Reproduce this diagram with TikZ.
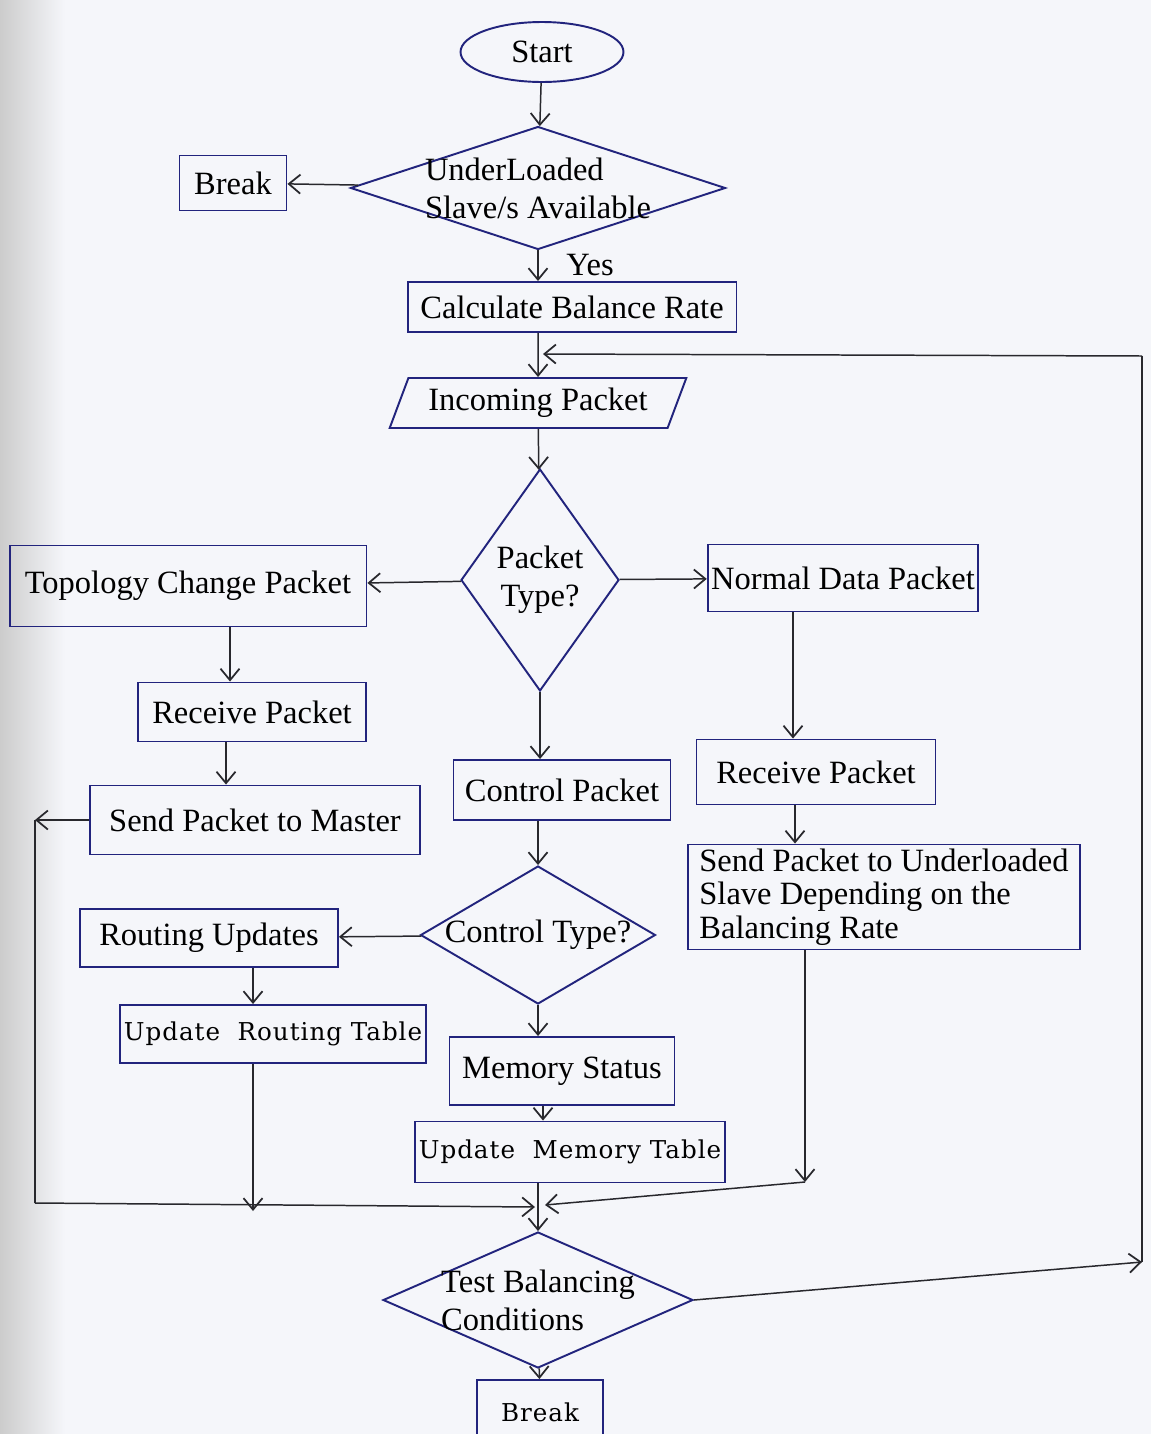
\documentclass[tikz,border=0pt]{standalone}
\usepackage{fontspec}
\setmainfont{Liberation Serif}
\newfontfamily\tablefont[LetterSpace=4]{DejaVu Serif}
\usetikzlibrary{shapes.geometric,arrows.meta}

\begin{document}
\begin{tikzpicture}[x=0.02cm,y=-0.02cm,
  every node/.style={font=\fontsize{18.5}{21.5}\selectfont, text=black},
  box/.style={rectangle, draw=boxline, line width=1.1pt, inner sep=2pt},
  decision/.style={diamond, draw=boxline, line width=1.1pt, inner sep=0pt},
  tabtext/.style={font=\tablefont\fontsize{14}{16}\selectfont},
  link/.style={draw=arrline, line width=0.85pt},
  arr/.style={link, -{Straight Barb[length=2.3mm,width=3.8mm,line width=1pt]}}]
%Define all colors here.

\definecolor{paper}{RGB}{245,246,250}
\definecolor{boxline}{RGB}{34,36,125}
\definecolor{arrline}{RGB}{40,40,45}

\fill[paper] (0,0) rectangle (1151,1434);
\shade[left color=gray!40, right color=paper] (0,0) rectangle (65,1434);
\useasboundingbox (0,0) rectangle (1151,1434);

% main column
\node(start) at (542,52) [ellipse, draw=boxline, line width=1.1pt, minimum width=3.26cm, minimum height=1.2cm] {Start};
\node(under) at (538,188) [decision, minimum width=7.5cm, minimum height=2.46cm,
  label={[align=left]center:UnderLoaded\\Slave/s Available}] {};
\node(brk1) at (233,183) [box, minimum width=2.14cm, minimum height=1.1cm] {Break};
\node(yes) at (590,265) {Yes};
\node(calc) at (572,307) [box, minimum width=6.58cm, minimum height=1cm] {Calculate Balance Rate};
\node(inc) at (538,403) [trapezium, trapezium left angle=68, trapezium right angle=112,
  trapezium stretches=true, draw=boxline, line width=1.1pt, minimum width=5.94cm, minimum height=1cm] {Incoming Packet};
\node(ptype) at (540,580) [decision, minimum width=3.16cm, minimum height=4.44cm,
  label={[align=center]center:Packet\\Type?}] {};

% topology branch
\node(topo) at (188,586) [box, minimum width=7.14cm, minimum height=1.62cm] {Topology Change Packet};
\node(recvL) at (252,712) [box, minimum width=4.56cm, minimum height=1.18cm] {Receive Packet};
\node(master) at (255,820) [box, minimum width=6.6cm, minimum height=1.38cm] {Send Packet to Master};

% data branch
\node(normal) at (843,578) [box, minimum width=5.4cm, minimum height=1.34cm] {Normal Data Packet};
\node(recvR) at (816,772) [box, minimum width=4.78cm, minimum height=1.3cm] {Receive Packet};
\node(sendU) at (884,897) [box, minimum width=7.84cm, minimum height=2.1cm, align=left,
  font=\fontsize{18.5}{19}\selectfont] {Send Packet to Underloaded\\ Slave Depending on the\\ Balancing Rate};

% control branch
\node(ctrl) at (562,790) [box, minimum width=4.34cm, minimum height=1.2cm] {Control Packet};
\node(ctype) at (538,935) [decision, minimum width=4.7cm, minimum height=2.76cm,
  label=center:Control Type?] {};
\node(route) at (209,938) [box, minimum width=5.16cm, minimum height=1.16cm] {Routing Updates};
\node(rtable) at (273,1034) [box, tabtext, minimum width=6.06cm, minimum height=1.16cm] {Update\ \ Routing Table};
\node(mem) at (562,1071) [box, minimum width=4.5cm, minimum height=1.36cm] {Memory Status};
\node(mtable) at (570,1152) [box, tabtext, minimum width=6.08cm, minimum height=1.22cm] {Update\ \ Memory Table};

\node(test) at (538,1300) [decision, minimum width=6.2cm, minimum height=2.72cm,
  label={[align=left]center:Test Balancing\\Conditions}] {};
\node(brk2) at (540,1412) [box, tabtext, minimum width=2.52cm, minimum height=1.28cm] {Break};

% bends and columns
\coordinate(rt) at (1142,356);
\coordinate(rb) at (1142,1262);
\coordinate(loopin) at (543,354);
\coordinate(lt) at (35,820);
\coordinate(lb) at (35,1203);
\coordinate(mergeL) at (535,1207);
\coordinate(mergeR) at (545,1205);
\coordinate(rdrop) at (253,1211);
\coordinate(ucorner) at (805,1182);
\coordinate(colA) at (230,0);
\coordinate(colB) at (226,0);
\coordinate(colR) at (253,0);
\coordinate(colN) at (793,0);
\coordinate(colU) at (795,0);
\coordinate(colV) at (805,0);
\coordinate(colM) at (543,0);

\draw[arr] (start) -- (under);
\draw[arr] (under) -- (brk1);
\draw[arr] (under) -- (under |- calc.north);
\draw[arr] (inc |- calc.south) -- (inc);
\draw[arr] (inc) -- (ptype);
\draw[arr] (ptype) -- (topo);
\draw[arr] (ptype) -- (normal);
\draw[arr] (ptype) -- (ptype |- ctrl.north);

\draw[arr] (topo.south -| colA) -- (recvL.north -| colA);
\draw[arr] (recvL.south -| colB) -- (master.north -| colB);
\draw[arr] (master) -- (lt);
\draw[link] (lt) -- (lb);
\draw[arr] (lb) -- (mergeL);

\draw[arr] (normal.south -| colN) -- (recvR.north -| colN);
\draw[arr] (recvR.south -| colU) -- (sendU.north -| colU);
\draw[arr] (sendU.south -| colV) -- (ucorner);
\draw[arr] (ucorner) -- (mergeR);

\draw[arr] (ctrl.south -| ctype) -- (ctype);
\draw[arr] (ctype) -- (route);
\draw[arr] (route.south -| colR) -- (rtable.north -| colR);
\draw[arr] (rtable.south -| colR) -- (rdrop);
\draw[arr] (ctype) -- (ctype |- mem.north);
\draw[arr] (mem.south -| colM) -- (mtable.north -| colM);

\draw[arr] (mtable.south -| test) -- (test);
\draw[arr] (test) -- (brk2);
\draw[arr] (test.east) -- (rb);
\draw[link] (rb) -- (rt);
\draw[arr] (rt) -- (loopin);
\end{tikzpicture}
\end{document}
